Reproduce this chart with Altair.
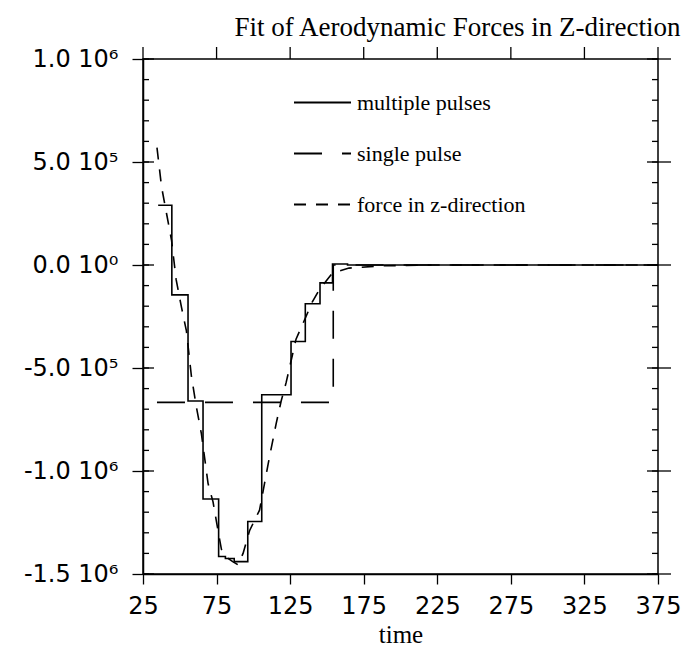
import altair as alt
import pandas as pd

# ---- data ----
series_names = ["multiple pulses", "single pulse", "force in z-direction"]

# multiple pulses: piecewise-constant fit (step edges and levels)
mp_edges = [35.3, 44.6, 55.6, 65.8, 76.4, 81.0, 87.0, 96.2, 105.7, 125.6, 135.3, 145.3, 153.8, 164.0, 375.0]
mp_levels = [2.9e5, -1.45e5, -6.6e5, -1.136e6, -1.415e6, -1.425e6, -1.44e6, -1.245e6,
             -6.3e5, -3.71e5, -1.88e5, -8.7e4, 5e3, 0.0]

# single pulse
sp_time = [34.5, 154.3, 154.3, 375.0]
sp_force = [-6.67e5, -6.67e5, 0.0, 0.0]

# force in z-direction
fz_time = [34.5, 37.6, 41.0, 44.4, 47.5, 51.0, 54.5, 57.9, 61.3, 64.7, 69.2, 72.6, 76.0, 78.3,
           82.0, 86.0, 89.5, 93.0, 97.4, 104.2, 107.6, 111.0, 115.5, 118.9, 122.3, 129.0,
           135.8, 140.0, 144.8, 153.8, 165.0, 187.5, 220.0, 375.0]
fz_force = [5.7e5, 3.8e5, 2.5e5, 1.2e5, -7e4, -2.0e5, -3.2e5, -5.4e5, -6.9e5, -8.2e5, -1.06e6,
            -1.15e6, -1.29e6, -1.38e6, -1.42e6, -1.44e6, -1.455e6, -1.40e6, -1.29e6, -1.19e6,
            -1.06e6, -9.3e5, -7.7e5, -6.6e5, -5.7e5, -3.6e5, -2.5e5, -1.8e5, -1.2e5, -3.9e4,
            -1.5e4, -4e3, 0.0, 0.0]

x_ticks = [25, 75, 125, 175, 225, 275, 325, 375]
y_major = [-1.5e6, -1.0e6, -5.0e5, 0.0, 5.0e5, 1.0e6]
y_labels = ["-1.5 10\u2076", "-1.0 10\u2076", "-5.0 10\u2075", "0.0 10\u2070", "5.0 10\u2075", "1.0 10\u2076"]
y_minor = [v * 1e5 for v in range(-15, 11)]

# ---- build table ----
rows = []
k = 0
for i, lvl in enumerate(mp_levels):
    for t in (mp_edges[i], mp_edges[i + 1]):
        rows.append({"series": series_names[0], "t": t, "f": lvl, "o": k}); k += 1
for t, f in zip(sp_time, sp_force):
    rows.append({"series": series_names[1], "t": t, "f": f, "o": k}); k += 1
for t, f in zip(fz_time, fz_force):
    rows.append({"series": series_names[2], "t": t, "f": f, "o": k}); k += 1
df = pd.DataFrame(rows)

W, H = 515, 515
xscale = alt.Scale(domain=[25, 375], nice=False, zero=False)
yscale = alt.Scale(domain=[-1.5e6, 1.0e6], nice=False, zero=False)

label_expr = " : ".join(f"datum.value == {v} ? '{s}'" for v, s in zip(y_major, y_labels)) + " : ''"

x_axis = alt.Axis(values=x_ticks, title="time", grid=False, tickSize=10, tickColor="black",
                  tickWidth=1.3, domainColor="black", domainWidth=1.5,
                  labelFont="DejaVu Sans", labelFontSize=24, labelColor="black",
                  labelPadding=10, labelFlush=False,
                  titleFont="Liberation Serif", titleFontSize=25, titleFontWeight="normal",
                  titleColor="black", titlePadding=4)
y_axis = alt.Axis(values=y_major, title=None, grid=False, tickSize=11, tickColor="black",
                  tickWidth=1.3, domainColor="black", domainWidth=1.5,
                  labelExpr=label_expr, labelFont="DejaVu Sans", labelFontSize=24,
                  labelColor="black", labelPadding=14, labelBaseline="middle",
                  labelFlush=False)

lines = alt.Chart(df).mark_line(color="black", strokeWidth=1.6).encode(
    x=alt.X("t:Q", scale=xscale, axis=x_axis),
    y=alt.Y("f:Q", scale=yscale, axis=y_axis),
    strokeDash=alt.StrokeDash("series:N",
                              scale=alt.Scale(domain=series_names, range=[[1, 0], [28, 20], [12, 10]]),
                              legend=alt.Legend(title=None, orient="none", legendX=150, legendY=14,
                                                symbolType="stroke", symbolSize=3249,
                                                symbolStrokeWidth=1.8, symbolStrokeColor="black",
                                                labelFont="Liberation Serif", labelFontSize=22,
                                                labelColor="black", labelOffset=5, rowPadding=10,
                                                labelLimit=0)),
    order="o:Q",
)

ymaj_df = pd.DataFrame({"f": y_major})
ymin_df = pd.DataFrame({"f": y_minor})
xt_df = pd.DataFrame({"t": x_ticks})

def yrule(d, x1, x2):
    return alt.Chart(d).mark_rule(color="black", strokeWidth=1.3).encode(
        y=alt.Y("f:Q", scale=yscale, axis=y_axis), x=alt.value(x1), x2=alt.value(x2))

left_minor = yrule(ymin_df, 0, 6)
left_major = yrule(ymaj_df, 0, 11)
right_minor = yrule(ymin_df, W - 6, W)
right_major = yrule(ymaj_df, W - 11, W + 13)
top_ticks = alt.Chart(xt_df).mark_rule(color="black", strokeWidth=1.3).encode(
    x=alt.X("t:Q", scale=xscale, axis=x_axis), y=alt.value(-12), y2=alt.value(0))

chart = alt.layer(lines, left_minor, left_major, right_minor, right_major, top_ticks).properties(
    width=W, height=H,
    title=alt.TitleParams("Fit of Aerodynamic Forces in Z-direction", font="Liberation Serif",
                          fontSize=27, fontWeight="normal", color="black", anchor="middle",
                          dx=57, offset=4),
    autosize=alt.AutoSizeParams(type="none"),
    padding={"left": 135, "top": 51, "right": 23, "bottom": 78},
    background="white",
).configure_view(stroke="black", strokeWidth=1.5)

chart.save("out.html", embed_options={"renderer": "svg", "actions": False})
